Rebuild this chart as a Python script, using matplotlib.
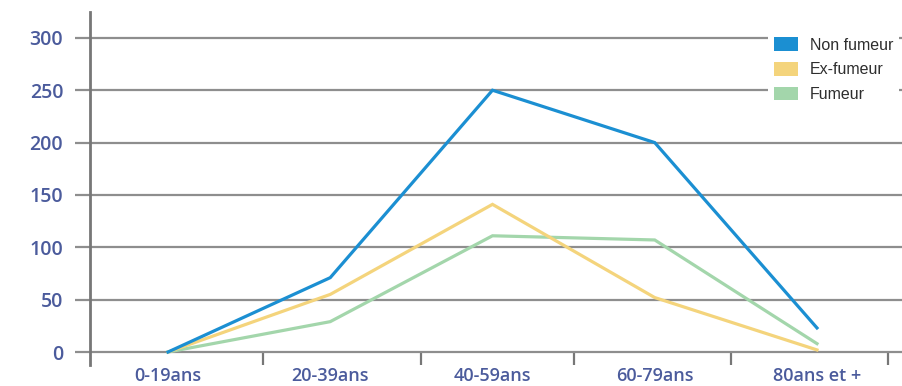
import matplotlib
matplotlib.use('Agg')
import matplotlib.pyplot as plt
from matplotlib.patches import Patch

# Data
age_groups = ['0-19ans', '20-39ans', '40-59ans', '60-79ans', '80ans et +']
non_fumeur = [0, 71, 250, 200, 23]
ex_fumeur = [0, 55, 141, 52, 2]
fumeur = [0, 29, 111, 107, 8]
y_ticks = [0, 50, 100, 150, 200, 250, 300]
series_labels = ['Non fumeur', 'Ex-fumeur', 'Fumeur']

# Styling
BLUE = '#1b8fd2'
YELLOW = '#f4d47c'
GREEN = '#a3d6ab'
GRID = '#8e8e8e'
LABEL = '#4b5b9c'

W, H, DPI = 902, 386, 100
fig = plt.figure(figsize=(W / DPI, H / DPI), dpi=DPI)
ax = fig.add_axes([90 / W, 21 / H, (W - 90) / W, (365 - 12) / H])

x = list(range(len(age_groups)))
ax.plot(x, fumeur, color=GREEN, lw=2.3, solid_joinstyle='miter', zorder=3)
ax.plot(x, ex_fumeur, color=YELLOW, lw=2.3, solid_joinstyle='miter', zorder=4)
ax.plot(x, non_fumeur, color=BLUE, lw=2.3, solid_joinstyle='miter', zorder=5)

ax.set_xlim(-0.4807, 4.524)
ax.set_ylim(-12.4, 324.7)

# y axis: long outward ticks that run into the horizontal grid
ax.set_yticks(y_ticks)
ax.yaxis.grid(True, color=GRID, lw=1.6, zorder=1)
ax.tick_params(axis='y', length=10.8, width=1.6, color=GRID, pad=8.5,
               labelsize=14, labelcolor=LABEL)

# x axis: labels under each group, separators between groups
ax.set_xticks(x)
ax.set_xticklabels(age_groups)
ax.set_xticks([0.585, 1.56, 2.5, 3.47, 4.44], minor=True)
ax.tick_params(axis='x', which='major', length=0, pad=1.2,
               labelsize=13, labelcolor=LABEL)
ax.tick_params(axis='x', which='minor', direction='in', length=9.4,
               width=1.6, color='#777777')

for lab in ax.get_xticklabels() + ax.get_yticklabels():
    lab.set_family(['Open Sans', 'DejaVu Sans'])
    lab.set_fontweight('semibold')

for side in ('top', 'right', 'bottom'):
    ax.spines[side].set_visible(False)
ax.spines['left'].set_color('#777777')
ax.spines['left'].set_linewidth(2)
ax.set_axisbelow(True)

handles = [Patch(facecolor=BLUE, edgecolor='none'),
           Patch(facecolor=YELLOW, edgecolor='none'),
           Patch(facecolor=GREEN, edgecolor='none')]
leg = fig.legend(handles, series_labels, loc='upper left',
                 bbox_to_anchor=(768 / W, 1 - 31 / H), borderaxespad=0,
                 frameon=True, facecolor='white', edgecolor='none',
                 framealpha=1, fancybox=False, borderpad=0.4,
                 handlelength=1.45, handleheight=0.95, handletextpad=0.75,
                 labelspacing=0.58,
                 prop={'family': ['Liberation Sans', 'DejaVu Sans'],
                       'size': 11.5})
for t in leg.get_texts():
    t.set_color('#2e2e2e')

fig.savefig('out.png', dpi=DPI, facecolor='white')
